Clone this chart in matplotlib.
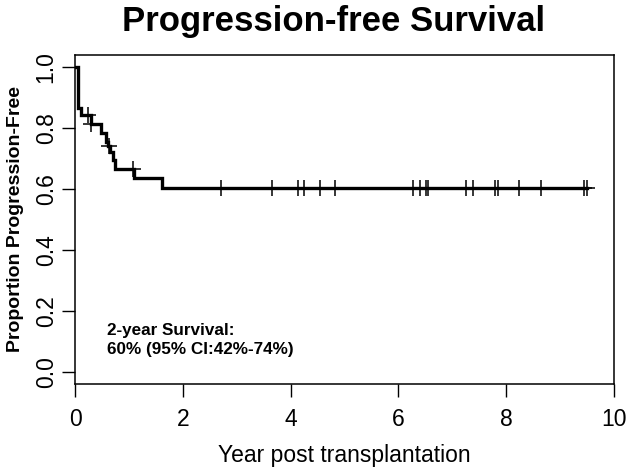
import matplotlib
matplotlib.use("Agg")
import matplotlib.pyplot as plt
import matplotlib.transforms as mtransforms
import numpy as np

plt.rcParams['font.family'] = ['Liberation Sans', 'DejaVu Sans']

# Kaplan-Meier step data (event times and survival after each step)
step_times = [0.0, 0.062, 0.105, 0.29, 0.49, 0.575, 0.62, 0.65, 0.70, 0.74, 1.09, 1.61, 9.49]
step_surv = [1.0, 0.864, 0.842, 0.812, 0.782, 0.755, 0.739, 0.722, 0.695, 0.666, 0.636, 0.603, 0.603]

# Censoring times
censor_times = [0.24, 0.30, 0.64, 1.07, 2.70, 3.65, 4.13, 4.25, 4.55, 4.82, 6.28, 6.41,
                6.51, 6.54, 7.25, 7.38, 7.79, 7.85, 8.24, 8.64, 9.44, 9.49]

title = "Progression-free Survival"
xlabel = "Year post transplantation"
ylabel = "Proportion Progression-Free"
annot = "2-year Survival:\n60% (95% CI:42%-74%)"
xticks = [0, 2, 4, 6, 8, 10]
yticks = [0.0, 0.2, 0.4, 0.6, 0.8, 1.0]

fig = plt.figure(figsize=(6.27, 4.73), dpi=100)
ax = fig.add_axes([75/627, 1-384/473, (614-75)/627, (384-54.7)/473])

ax.step(step_times, step_surv, where='post', color='black', lw=2.4, solid_joinstyle='miter')


def surv_at(t):
    idx = np.searchsorted(step_times, t, side='right') - 1
    return step_surv[idx]


cy = [surv_at(t) for t in censor_times]
ax.plot(censor_times, cy, ls='none', marker='+', ms=11, mew=1.1, color='black')

ax.set_xlim(0, 10)
ax.set_ylim(-0.04, 1.04)
ax.set_xticks(xticks)
ax.set_xticklabels([str(v) for v in xticks])
ax.set_yticks(yticks)
ax.set_yticklabels([f"{v:.1f}" for v in yticks], rotation=90, va='center')
ax.tick_params(direction='out', length=9.5, width=1.0, labelsize=16.5, colors='black', pad=3)
ax.tick_params(axis='x', pad=8)
for s in ax.spines.values():
    s.set_linewidth(1.1)

ax.set_xlabel(xlabel, fontsize=16.5, labelpad=9)
ax.set_ylabel(ylabel, fontsize=14, fontweight='bold', labelpad=8)

ax.text(107, 473-340, annot, transform=mtransforms.IdentityTransform(),
        fontsize=12.3, fontweight='bold', va='center', ha='left', linespacing=1.3)

fig.text(334/627, 1-22/473, title, fontsize=25, fontweight='bold', ha='center', va='center')

fig.savefig("out.png", dpi=100)
